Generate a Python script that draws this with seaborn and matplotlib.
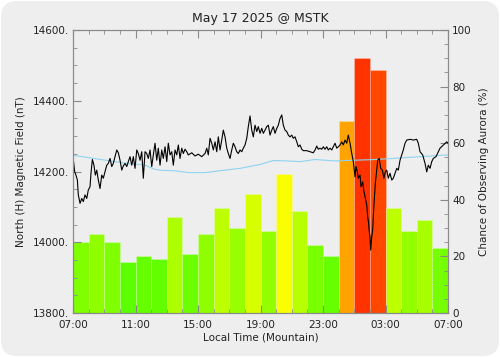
import matplotlib
matplotlib.use("Agg")
import matplotlib.pyplot as plt
from matplotlib.patches import FancyBboxPatch
from matplotlib.transforms import IdentityTransform
from matplotlib.ticker import MultipleLocator, FixedLocator
import matplotlib.colors as mcolors
import seaborn as sns
import pandas as pd
import numpy as np

# hourly aurora chance (%), one bar per hour starting 07:00
bar_pct = [25, 28, 25, 18, 20, 19, 34, 21, 28, 37, 30, 42,
           29, 49, 36, 24, 20, 68, 90, 86, 37, 29, 33, 23]

# magnetometer H component, hours since 07:00 and nT
field_hours = [0.02, 0.11, 0.19, 0.28, 0.34, 0.45, 0.56, 0.66, 0.77, 0.88, 0.98, 1.09, 1.15, 1.24,
               1.34, 1.43, 1.52, 1.62, 1.73, 1.84, 1.94, 2.05, 2.16, 2.26, 2.37, 2.48, 2.58, 2.69,
               2.80, 2.90, 3.01, 3.12, 3.22, 3.33, 3.44, 3.54, 3.65, 3.76, 3.86, 3.97, 4.08, 4.18,
               4.29, 4.40, 4.50, 4.61, 4.72, 4.82, 4.93, 5.04, 5.14, 5.25, 5.36, 5.46, 5.57, 5.68,
               5.78, 5.89, 6.00, 6.10, 6.21, 6.32, 6.42, 6.53, 6.64, 6.74, 6.85, 6.96, 7.06, 7.17,
               7.28, 7.38, 7.60, 7.81, 8.02, 8.24, 8.45, 8.56, 8.66, 8.77, 8.88, 8.98, 9.09, 9.20,
               9.30, 9.41, 9.52, 9.62, 9.73, 9.84, 9.94, 10.05, 10.16, 10.26, 10.37, 10.48, 10.58,
               10.69, 10.80, 10.90, 11.01, 11.12, 11.22, 11.33, 11.44, 11.54, 11.65, 11.76, 11.86,
               11.97, 12.08, 12.18, 12.29, 12.40, 12.50, 12.61, 12.72, 12.82, 12.93, 13.04, 13.14,
               13.25, 13.36, 13.46, 13.57, 13.68, 13.78, 13.89, 14.00, 14.10, 14.21, 14.32, 14.42,
               14.53, 14.64, 14.74, 14.96, 15.17, 15.38, 15.49, 15.60, 15.70, 15.81, 15.92, 16.02,
               16.13, 16.24, 16.34, 16.45, 16.56, 16.66, 16.77, 16.88, 16.98, 17.09, 17.20, 17.30,
               17.41, 17.52, 17.62, 17.73, 17.84, 17.94, 18.05, 18.11, 18.20, 18.26, 18.37, 18.43,
               18.54, 18.62, 18.69, 18.80, 18.86, 18.92, 18.96, 19.01, 19.05, 19.12, 19.18, 19.22,
               19.28, 19.35, 19.44, 19.50, 19.60, 19.69, 19.80, 19.90, 19.99, 20.08, 20.18, 20.29,
               20.40, 20.50, 20.61, 20.72, 20.82, 20.93, 21.04, 21.14, 21.25, 21.36, 21.57, 21.78,
               22.00, 22.10, 22.21, 22.38, 22.53, 22.64, 22.74, 22.85, 22.96, 23.06, 23.23, 23.38,
               23.49, 23.70, 23.81, 23.92, 24.00]
field_nt = [14234, 14199, 14190, 14176, 14134, 14110, 14124, 14115, 14134, 14124, 14148, 14157, 14195, 14234,
            14218, 14190, 14204, 14176, 14152, 14190, 14181, 14199, 14218, 14223, 14237, 14214, 14223, 14242,
            14261, 14253, 14232, 14204, 14216, 14223, 14214, 14228, 14242, 14218, 14242, 14209, 14261, 14251,
            14232, 14256, 14181, 14256, 14251, 14237, 14261, 14214, 14247, 14280, 14232, 14266, 14218, 14261,
            14237, 14270, 14228, 14280, 14247, 14256, 14218, 14261, 14247, 14275, 14237, 14266, 14251, 14263,
            14256, 14247, 14253, 14244, 14249, 14242, 14251, 14266, 14247, 14294, 14280, 14261, 14284, 14256,
            14298, 14261, 14289, 14317, 14298, 14266, 14251, 14237, 14261, 14280, 14270, 14256, 14251,
            14261, 14256, 14266, 14275, 14294, 14327, 14357, 14317, 14298, 14331, 14313, 14327,
            14308, 14322, 14308, 14317, 14327, 14331, 14303, 14317, 14327, 14308, 14322, 14331,
            14350, 14360, 14331, 14317, 14313, 14303, 14298, 14303, 14294, 14298, 14284, 14270,
            14275, 14263, 14259, 14259, 14256, 14253, 14261, 14272, 14263, 14266, 14263, 14270,
            14263, 14270, 14261, 14266, 14261, 14270, 14280, 14266, 14270, 14275, 14284, 14275,
            14289, 14280, 14303, 14280, 14251, 14228, 14185, 14214, 14199, 14181, 14190, 14157,
            14171, 14143, 14129, 14105, 14072, 14054, 14030, 14016, 13978, 14016, 14035, 14072,
            14119, 14167, 14204, 14232, 14237, 14209, 14204, 14181, 14199, 14204, 14181, 14195,
            14176, 14181, 14195, 14209, 14204, 14232, 14247, 14261, 14280, 14289, 14291, 14289,
            14291, 14280, 14256, 14247, 14223, 14199, 14218, 14209, 14228, 14237, 14242, 14256,
            14266, 14275, 14280, 14284, 14280]

# quiet-day baseline
base_hours = [0.00, 3.44, 4.61, 5.25, 5.57, 6.53, 7.38, 8.45, 9.73, 10.69, 11.97, 12.82,
              13.68, 14.53, 15.49, 16.77, 19.35, 24.00]
base_nt = [14246, 14223, 14218, 14206, 14204, 14202, 14197, 14197, 14204, 14209, 14220, 14231,
           14230, 14228, 14234, 14230, 14234, 14247]

x_labels = ["07:00", "11:00", "15:00", "19:00", "23:00", "03:00", "07:00"]
title = "May 17 2025 @ MSTK"

plt.rcParams['font.family'] = ['DejaVu Sans']
plt.rcParams['font.size'] = 7.5
text_col = "#222222"
axis_col = "#8a8a8a"

fig = plt.figure(figsize=(5.0, 3.57), dpi=100, facecolor="white")
bg = FancyBboxPatch((1, 1), 498, 355, boxstyle="round,pad=0,rounding_size=16",
                    transform=IdentityTransform(), facecolor="#eeeeee", edgecolor="none",
                    zorder=-10)
fig.patches.append(bg)

ax = fig.add_axes([0.146, 0.123, 0.75, 0.793])
ax2 = ax.twinx()

# bars: hue from green (0%) to red (100%)
centers = [i + 0.5 for i in range(len(bar_pct))]
slots = [f"h{i:02d}" for i in range(len(bar_pct))]
pal = {s: mcolors.hsv_to_rgb(((1 - p / 100) / 3, 1, 1)) for s, p in zip(slots, bar_pct)}
bars = pd.DataFrame({"hour": centers, "pct": bar_pct, "slot": slots})
sns.barplot(data=bars, x="hour", y="pct", hue="slot", palette=pal, native_scale=True,
            width=1, saturation=1, legend=False, ax=ax2,
            edgecolor=(1, 1, 1, 0.25), linewidth=0.6)

# lines on top of bars
ax.set_zorder(ax2.get_zorder() + 1)
ax.patch.set_visible(False)
ax2.set_facecolor("#eeeeee")

sns.lineplot(x=base_hours, y=base_nt, ax=ax, color="#8fd3ef", linewidth=0.8)
sns.lineplot(x=field_hours, y=field_nt, ax=ax, color="black", linewidth=0.8)

ax.set_xlim(0, 24)
ax.set_ylim(13800, 14600)
ax2.set_ylim(0, 100)

ax.xaxis.set_major_locator(FixedLocator([0, 4, 8, 12, 16, 20, 24]))
ax.set_xticklabels(x_labels)
ax.xaxis.set_minor_locator(MultipleLocator(1))
ax.yaxis.set_major_locator(MultipleLocator(200))
ax.yaxis.set_minor_locator(MultipleLocator(50))
ax.set_yticks([13800, 14000, 14200, 14400, 14600])
ax.set_yticklabels(["13800.", "14000.", "14200.", "14400.", "14600."])
ax2.yaxis.set_major_locator(MultipleLocator(20))
ax2.yaxis.set_minor_locator(MultipleLocator(5))

ax.tick_params(axis="x", which="both", direction="in", top=True, colors=axis_col,
               labelcolor=text_col, pad=5)
ax.tick_params(axis="x", which="major", length=6)
ax.tick_params(axis="x", which="minor", length=3)
ax.tick_params(axis="y", which="both", direction="in", colors=axis_col, labelcolor=text_col, pad=3)
ax.tick_params(axis="y", which="major", length=6)
ax.tick_params(axis="y", which="minor", length=3)
ax2.tick_params(axis="y", which="both", direction="in", colors=axis_col, labelcolor=text_col, pad=3)
ax2.tick_params(axis="y", which="major", length=6)
ax2.tick_params(axis="y", which="minor", length=3)
ax2.tick_params(axis="x", which="both", bottom=False, top=False, labelbottom=False)

for a in (ax, ax2):
    for s in a.spines.values():
        s.set_color(axis_col)
        s.set_linewidth(0.8)

ax.set_xlabel("Local Time (Mountain)", color=text_col, labelpad=2)
ax.set_ylabel("North (H) Magnetic Field (nT)", color=text_col, labelpad=5)
ax2.set_ylabel("Chance of Observing Aurora (%)", color=text_col, labelpad=5)
ax2.set_xlabel("")
ax.set_title(title, color=text_col, pad=6)

fig.savefig("out.png", dpi=100, facecolor="white")
